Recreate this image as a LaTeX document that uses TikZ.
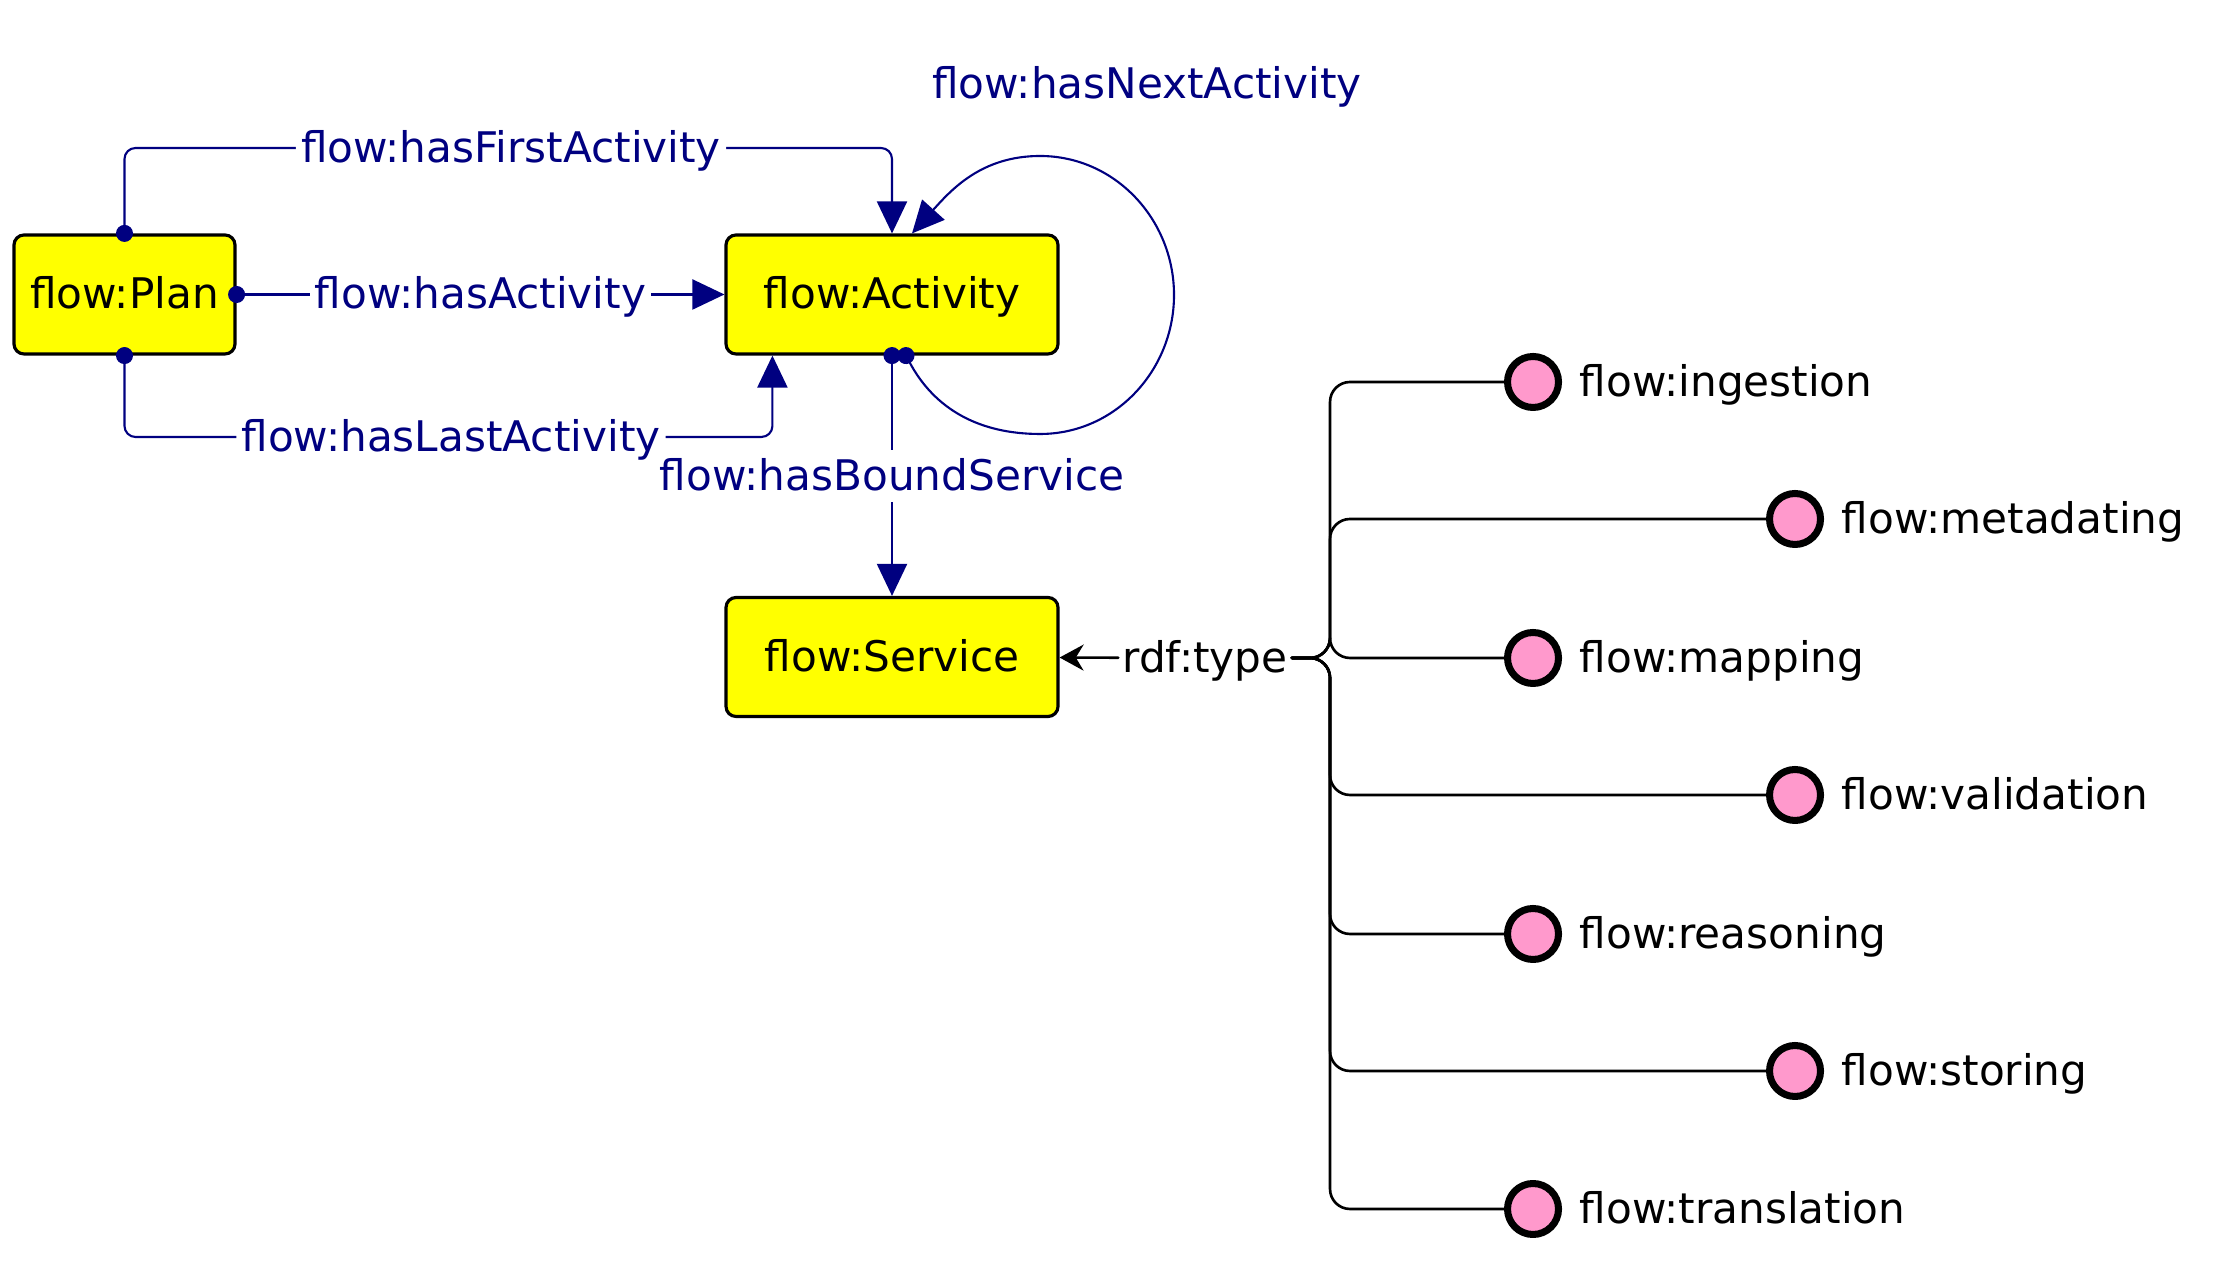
\documentclass[tikz,border=0pt]{standalone}
\usepackage{fontspec}
\setmainfont{DejaVu Sans}
\usetikzlibrary{arrows.meta,positioning}
\definecolor{EdgeNavy}{HTML}{000080}
\definecolor{ClassYellow}{HTML}{FFFF00}
\definecolor{IndivPink}{HTML}{FF99CC}

\begin{document}
\begin{tikzpicture}[line cap=round,line join=round,font=\fontsize{12}{14}\selectfont,
  classbox/.style={draw,line width=0.9pt,fill=ClassYellow,rounded corners=1mm,
    minimum height=11.9mm,inner sep=0pt,text height=10pt,text depth=2pt},
  indiv/.style={circle,draw,line width=2pt,fill=IndivPink,minimum size=5.1mm,inner sep=0pt},
  indivlabel/.style={inner sep=0pt,text height=10pt,text depth=2pt},
  prop/.style={EdgeNavy,line width=0.6pt,shorten <=-0.85mm,
    {Circle[length=1.7mm]}-{Triangle[length=3.2mm,width=3mm]}},
  plabel/.style={text=EdgeNavy,fill=white,inner sep=1.5pt,text height=10pt,text depth=2pt},
  tree/.style={line width=0.75pt,rounded corners=2mm}]
  \useasboundingbox (0,0) rectangle (22.18,12.62);

  \node[classbox,minimum width=22.1mm] (plan) at (1.245,9.675) {flow:Plan};
  \node[classbox,minimum width=33.2mm] (activity) at (8.92,9.675) {flow:Activity};
  \node[classbox,minimum width=33.2mm] (service) at (8.92,6.05) {flow:Service};

  \coordinate (firstmid) at (5.11,11.14);
  \coordinate (lastmid) at (4.51,8.25);
  \draw[prop,rounded corners=1.1mm] (plan.north) |- (firstmid)
    node[plabel] {flow:hasFirstActivity} -| (activity.north);
  \draw[prop] (plan.east) -- node[plabel] {flow:hasActivity} (activity.west);
  \draw[prop,rounded corners=1.1mm] (plan.south) |- (lastmid)
    node[plabel] {flow:hasLastActivity} -| ([xshift=4.8mm]activity.south west);
  \draw[prop] (activity.south) -- (service.north);
  \node[plabel] (boundlbl) at (8.92,7.86) {flow:hasBoundService};

  % self loop
  \coordinate (loopS) at (10.40,8.28);
  \coordinate (loopE) at (11.74,9.67);
  \coordinate (loopN) at (10.40,11.06);
  \draw[prop] ([xshift=1.4mm]activity.south) to[out=-62,in=180] (loopS)
    to[out=0,in=-90] (loopE) to[out=90,in=0] (loopN)
    to[out=180,in=48] ([xshift=2mm]activity.north);
  \node[plabel] (nextlbl) at (11.47,11.78) {flow:hasNextActivity};

  % individuals
  \node[indivlabel,inner sep=1pt] (rdftype) at (12.05,6.04) {rdf:type};
  \coordinate (spine) at (13.30,6.04);
  \draw[line width=0.75pt,-{Stealth[length=2.4mm,width=2.6mm]}] (rdftype) -- (service);
  \foreach \n/\x/\y in {ingestion/15.33/8.80,metadating/17.95/7.43,mapping/15.33/6.04,
      validation/17.95/4.67,reasoning/15.33/3.28,storing/17.95/1.91,translation/15.33/0.53}{
    \draw[tree] (rdftype.east) -- (spine) |- (\x,\y);
    \node[indiv] (\n) at (\x,\y) {};
    \node[indivlabel,right=1.7mm of \n] (\n-lbl) {flow:\n};
  }
\end{tikzpicture}
\end{document}
